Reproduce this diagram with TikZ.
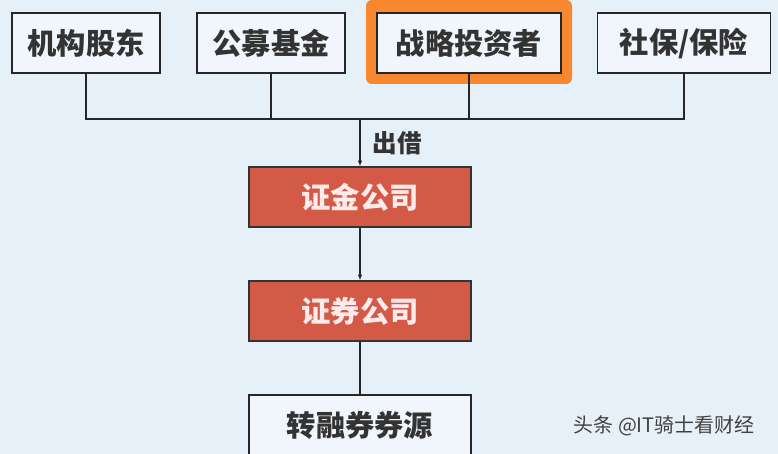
\documentclass[tikz,border=0pt]{standalone}
\usepackage{fontspec}
\newfontfamily\cjk{Noto Sans CJK SC}
\usetikzlibrary{arrows.meta}
\definecolor{bgblue}{HTML}{E6F0F8}
\definecolor{boxred}{HTML}{D45A48}
\definecolor{hiorange}{HTML}{F7882F}
\begin{document}
\begin{tikzpicture}[x=0.03cm,y=-0.03cm,
    srcbox/.style={draw=black!85,line width=1pt,fill=bgblue!60,minimum height=60*0.03cm,
      font=\cjk\bfseries\fontsize{25}{25}\selectfont,text=black!80,inner sep=0pt},
    redbox/.style={draw=black!80,line width=1pt,fill=boxred,minimum width=222*0.03cm,
      minimum height=60*0.03cm,font=\cjk\bfseries\fontsize{25}{25}\selectfont,text=white!92!red,inner sep=0pt},
    link/.style={draw=black!85,line width=1pt},
    stream/.style={link,-{Latex[length=5pt,width=4pt]}}]
    \fill[bgblue] (0,0) rectangle (778,454);
    \useasboundingbox (0,0) rectangle (778,454);

    %sources
    \fill[hiorange,rounded corners=5pt] (366,0) rectangle (572,84);
    \node[srcbox,minimum width=148*0.03cm] (jigou) at (86,43) {机构股东};
    \node[srcbox,minimum width=148*0.03cm] (gongmu) at (271,43) {公募基金};
    \node[srcbox,minimum width=184*0.03cm] (zhanlue) at (469,43) {战略投资者};
    \node[srcbox,minimum width=173*0.03cm] (shebao) at (684,43) {社保/保险};

    %join
    \coordinate (bus) at (360,119);
    \draw[link] (jigou.south) |- (bus);
    \draw[link] (gongmu.south) |- (bus);
    \draw[link] (zhanlue.south) |- (bus);
    \draw[link] (shebao.south) |- (bus);

    %chain
    \node[redbox] (zhengjin) at (360,197) {证金公司};
    \node[redbox] (zhengquan) at (360,311) {证券公司};
    \node[srcbox,minimum width=222*0.03cm] (quanyuan) at (360,425) {转融券券源};
    \draw[stream] (bus) -- (zhengjin.north);
    \node[font=\cjk\bfseries\fontsize{21}{21}\selectfont,text=black!80] (chujie) at (397,143) {出借};
    \draw[stream] (zhengjin) -- (zhengquan);
    \draw[link] (zhengquan) -- (quanyuan);

    \node[font=\cjk\fontsize{17}{17}\selectfont,text=black!75] (mark) at (664,426) {头条 @IT骑士看财经};
\end{tikzpicture}
\end{document}
